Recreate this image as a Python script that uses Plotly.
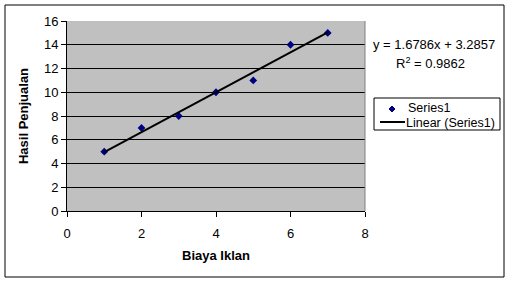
import numpy as np
import plotly.graph_objects as go

biaya_iklan = [1, 2, 3, 4, 5, 6, 7]
hasil_penjualan = [5, 7, 8, 10, 11, 14, 15]
x_ticks = [0, 2, 4, 6, 8]
y_ticks = [0, 2, 4, 6, 8, 10, 12, 14, 16]
series_name = "Series1"
trend_name = "Linear (Series1)"

xs = np.array(biaya_iklan, dtype=float)
ys = np.array(hasil_penjualan, dtype=float)
slope, intercept = np.polyfit(xs, ys, 1)
pred = slope * xs + intercept
r2 = 1 - np.sum((ys - pred) ** 2) / np.sum((ys - ys.mean()) ** 2)
line_x = [xs.min(), xs.max()]
line_y = [slope * v + intercept for v in line_x]

font = "Arial, Liberation Sans, sans-serif"
fig = go.Figure()
fig.add_trace(go.Scatter(x=biaya_iklan, y=hasil_penjualan, mode="markers", name=series_name,
                         marker=dict(symbol="diamond", size=6, color="#000080"), showlegend=False))
fig.add_trace(go.Scatter(x=line_x, y=line_y, mode="lines", name=trend_name,
                         line=dict(color="black", width=2), showlegend=False))

L, T, W, H = 67, 21, 298, 190
def px(xp):
    return (xp - L) / W
def py(yp):
    return 1 - (yp - T) / H

fig.update_layout(
    width=511, height=283,
    margin=dict(l=L, r=511 - L - W, t=T, b=283 - T - H, autoexpand=False),
    paper_bgcolor="white", plot_bgcolor="#C0C0C0",
    font=dict(family=font, size=13, color="black"),
    showlegend=False,
    xaxis=dict(range=[0, 8], tickvals=x_ticks, showgrid=False, zeroline=False,
               showline=True, linecolor="black", linewidth=1,
               ticks="outside", ticklen=5, tickcolor="black",
               tickfont=dict(size=13), ticklabelstandoff=5,
               title=dict(text="<b>Biaya Iklan</b>", font=dict(size=13), standoff=11)),
    yaxis=dict(range=[0, 16], tickvals=y_ticks, showgrid=True, gridcolor="black", gridwidth=1,
               zeroline=False, showline=True, linecolor="black", linewidth=1,
               ticks="outside", ticklen=5, tickcolor="black",
               tickfont=dict(size=13),
               title=dict(text="<b>Hasil Penjualan</b>", font=dict(size=13), standoff=12)),
)

# plot area right border and outer chart border
fig.add_shape(type="line", xref="paper", yref="paper", x0=1, x1=1, y0=0, y1=1,
              line=dict(color="#808080", width=1))
fig.add_shape(type="rect", xref="paper", yref="paper", x0=px(5), x1=px(504), y0=py(277), y1=py(5),
              line=dict(color="black", width=1), fillcolor="rgba(0,0,0,0)", layer="below")

# trendline equation
fig.add_annotation(xref="paper", yref="paper", x=px(434), y=py(44), xanchor="center", yanchor="middle",
                   showarrow=False, text=f"y = {slope:.4f}x + {intercept:.4f}", font=dict(size=13))
fig.add_annotation(xref="paper", yref="paper", x=px(430), y=py(63), xanchor="center", yanchor="middle",
                   showarrow=False, text=f"R<sup>2</sup> = {r2:.4f}", font=dict(size=13))

# legend box
fig.add_shape(type="rect", xref="paper", yref="paper", x0=px(374), x1=px(500), y0=py(130), y1=py(98),
              line=dict(color="black", width=1), fillcolor="white")
cx, cy, d = 392, 109, 3
fig.add_shape(type="path", xref="paper", yref="paper",
              path=f"M {px(cx)},{py(cy - d)} L {px(cx + d)},{py(cy)} L {px(cx)},{py(cy + d)} L {px(cx - d)},{py(cy)} Z",
              line=dict(color="#000080", width=1), fillcolor="#000080")
fig.add_shape(type="line", xref="paper", yref="paper", x0=px(380), x1=px(405), y0=py(122), y1=py(122),
              line=dict(color="black", width=2))
fig.add_annotation(xref="paper", yref="paper", x=px(406), y=py(107.5), xanchor="left", yanchor="middle",
                   showarrow=False, text=series_name, font=dict(size=12.5))
fig.add_annotation(xref="paper", yref="paper", x=px(404), y=py(122.5), xanchor="left", yanchor="middle",
                   showarrow=False, text=trend_name, font=dict(size=12.5))

fig.write_html("out.html")
